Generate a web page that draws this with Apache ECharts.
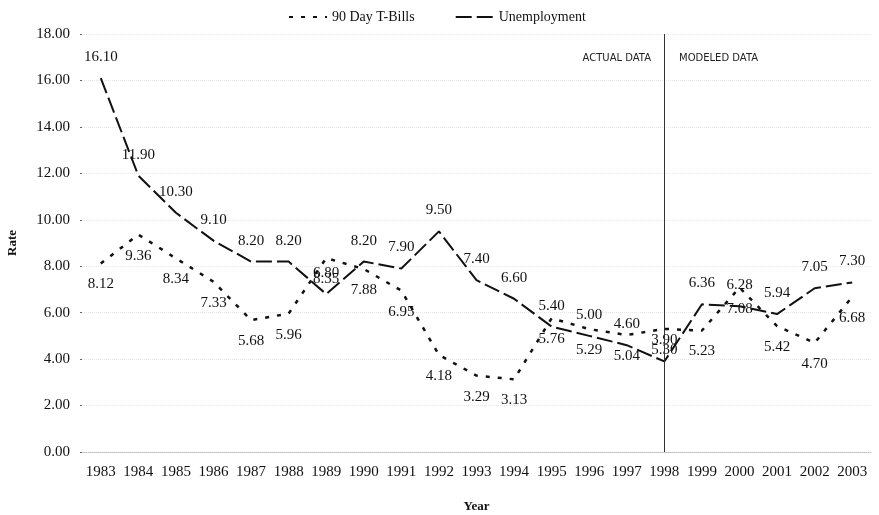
<!DOCTYPE html>
<html>
<head>
<meta charset="utf-8">
<script src="https://cdn.jsdelivr.net/npm/echarts@6/dist/echarts.min.js"></script>
<style>html,body{margin:0;padding:0;background:#fff;}#c{width:879px;height:515px;}</style>
</head>
<body>
<div id="c"></div>
<script>
var years = ['1983','1984','1985','1986','1987','1988','1989','1990','1991','1992','1993','1994','1995','1996','1997','1998','1999','2000','2001','2002','2003'];
var tbills = [8.12, 9.36, 8.34, 7.33, 5.68, 5.96, 8.35, 7.88, 6.95, 4.18, 3.29, 3.13, 5.76, 5.29, 5.04, 5.30, 5.23, 7.08, 5.42, 4.70, 6.68];
var unemployment = [16.10, 11.90, 10.30, 9.10, 8.20, 8.20, 6.80, 8.20, 7.90, 9.50, 7.40, 6.60, 5.40, 5.00, 4.60, 3.90, 6.36, 6.28, 5.94, 7.05, 7.30];
var yTicks = {min: 0, max: 18, interval: 2};
var splitYear = '1998';

var serif = '"Liberation Serif", "DejaVu Serif", serif';
var chart = echarts.init(document.getElementById('c'));
chart.setOption({
  animation: false,
  backgroundColor: '#fff',
  textStyle: {fontFamily: serif},
  legend: {
    top: 5, left: 283,
    itemWidth: 38, itemHeight: 10, itemGap: 40,
    textStyle: {fontFamily: serif, fontSize: 14, color: '#111'},
    data: ['90 Day T-Bills', 'Unemployment']
  },
  grid: {left: 82, right: 8, top: 34, bottom: 63, containLabel: false, outerBoundsMode: 'none'},
  xAxis: {
    type: 'category', data: years, boundaryGap: true,
    name: 'Year', nameLocation: 'middle', nameGap: 48,
    nameTextStyle: {fontFamily: serif, fontWeight: 'bold', fontSize: 13, color: '#111'},
    axisLine: {lineStyle: {color: '#bbb', type: 'dotted'}},
    axisTick: {show: false},
    axisLabel: {fontFamily: serif, fontSize: 15, color: '#111', margin: 13, interval: 0}
  },
  yAxis: {
    type: 'value', min: yTicks.min, max: yTicks.max, interval: yTicks.interval,
    name: 'Rate', nameLocation: 'middle', nameGap: 63, nameRotate: 90,
    nameTextStyle: {fontFamily: serif, fontWeight: 'bold', fontSize: 13, color: '#111'},
    axisLine: {show: false},
    axisTick: {show: true, length: 2, lineStyle: {color: '#666'}},
    axisLabel: {fontFamily: serif, fontSize: 15, color: '#111', margin: 12,
      formatter: function (v) { return v.toFixed(2); }},
    splitLine: {show: true, lineStyle: {color: '#e6e6e6', type: 'dotted'}}
  },
  series: [
    {
      name: '90 Day T-Bills', type: 'line', data: tbills,
      showSymbol: true, symbol: 'circle', symbolSize: 1,
      lineStyle: {color: '#111', width: 2.5, type: [4, 8]},
      itemStyle: {color: 'rgba(0,0,0,0)'},
      label: {show: true, position: 'bottom', distance: 13, fontFamily: serif, fontSize: 15, color: '#111',
        formatter: function (p) { return p.value.toFixed(2); }},
      labelLayout: {hideOverlap: false},
      markLine: {
        silent: true, symbol: 'none',
        lineStyle: {color: '#333', width: 1, type: 'solid'},
        label: {show: false},
        data: [{xAxis: splitYear}]
      }
    },
    {
      name: 'Unemployment', type: 'line', data: unemployment,
      showSymbol: true, symbol: 'circle', symbolSize: 1,
      lineStyle: {color: '#111', width: 2, type: [16, 5]},
      itemStyle: {color: 'rgba(0,0,0,0)'},
      label: {show: true, position: 'top', distance: 13, fontFamily: serif, fontSize: 15, color: '#111',
        formatter: function (p) { return p.value.toFixed(2); }},
      labelLayout: {hideOverlap: false}
    }
  ],
  graphic: [
    {type: 'text', right: 879 - 651, top: 53, style: {text: 'ACTUAL DATA', font: '10px "DejaVu Sans", sans-serif', fill: '#222'}},
    {type: 'text', left: 679, top: 53, style: {text: 'MODELED DATA', font: '10px "DejaVu Sans", sans-serif', fill: '#222'}}
  ]
});
</script>
</body>
</html>
